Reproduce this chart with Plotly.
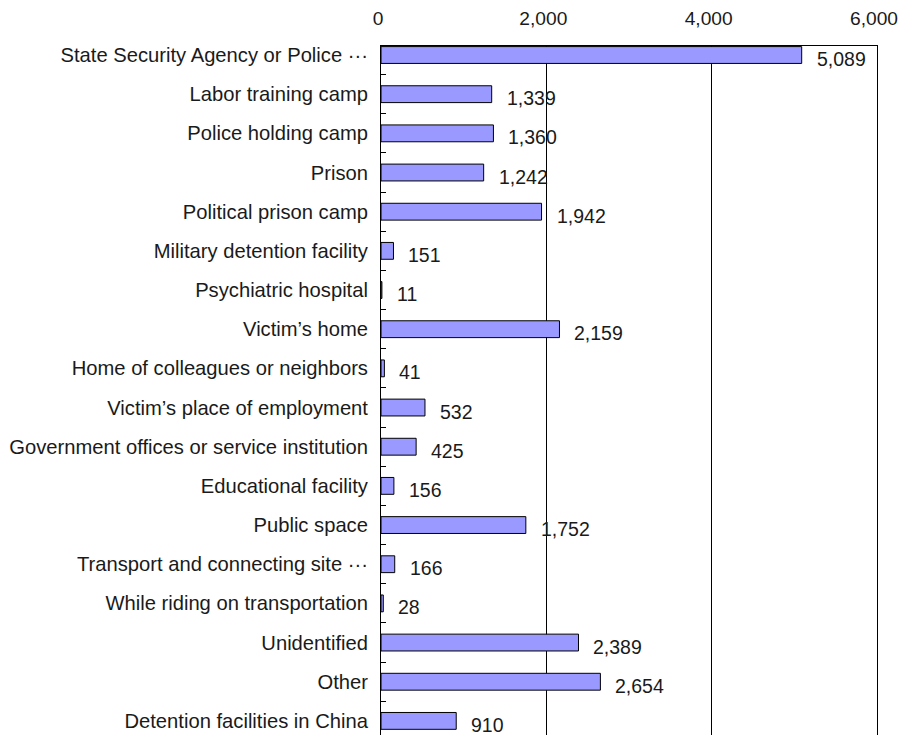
import plotly.graph_objects as go

categories = [
    "State Security Agency or Police \u00b7\u00b7\u00b7",
    "Labor training camp",
    "Police holding camp",
    "Prison",
    "Political prison camp",
    "Military detention facility",
    "Psychiatric hospital",
    "Victim\u2019s home",
    "Home of colleagues or neighbors",
    "Victim\u2019s place of employment",
    "Government offices or service institution",
    "Educational facility",
    "Public space",
    "Transport and connecting site \u00b7\u00b7\u00b7",
    "While riding on transportation",
    "Unidentified",
    "Other",
    "Detention facilities in China",
]
values = [5089, 1339, 1360, 1242, 1942, 151, 11, 2159, 41, 532, 425, 156, 1752, 166, 28, 2389, 2654, 910]
x_ticks = [0, 2000, 4000, 6000]
x_tick_labels = ["0", "2,000", "4,000", "6,000"]

FONT = "Liberation Sans, Arial, Helvetica, sans-serif"
TXT = "#1a1a1a"

fig = go.Figure()
fig.add_trace(go.Bar(
    x=values,
    y=categories,
    orientation="h",
    width=0.43,
    marker=dict(color="#9999FF", line=dict(color="black", width=1)),
    hoverinfo="x+y",
))

for c, v in zip(categories, values):
    fig.add_annotation(
        x=v, y=c, text=f"{v:,}", showarrow=False,
        xanchor="left", yanchor="middle", xshift=13, yshift=-4,
        font=dict(family=FONT, size=19.5, color=TXT),
    )

# page body has an 8px default margin; size the figure so the page does not overflow
fig.update_layout(
    width=891, height=727,
    margin=dict(l=373, r=22, t=38, b=0, autoexpand=False),
    paper_bgcolor="white", plot_bgcolor="white",
    showlegend=False,
    font=dict(family=FONT, size=19.5, color=TXT),
    xaxis=dict(
        side="top",
        range=[0, 6000],
        tickvals=x_ticks,
        ticktext=x_tick_labels,
        showgrid=True, gridcolor="black", gridwidth=1,
        showline=True, linecolor="black", linewidth=1, mirror=True,
        ticks="", zeroline=False,
        ticklabelstandoff=12,
        ticklabelshift=-3,
        ticklabeloverflow="allow",
        tickfont=dict(family=FONT, size=19.2, color=TXT),
    ),
    yaxis=dict(
        type="category",
        categoryorder="array", categoryarray=categories,
        range=[17.36, -0.23],
        showline=True, linecolor="black", linewidth=1, mirror=True,
        showgrid=False,
        ticks="inside", tickson="boundaries", ticklen=5, tickcolor="black", tickwidth=1,
        ticklabelstandoff=8,
        tickfont=dict(family=FONT, size=20.2, color=TXT),
    ),
)

fig.write_html("out.html")
